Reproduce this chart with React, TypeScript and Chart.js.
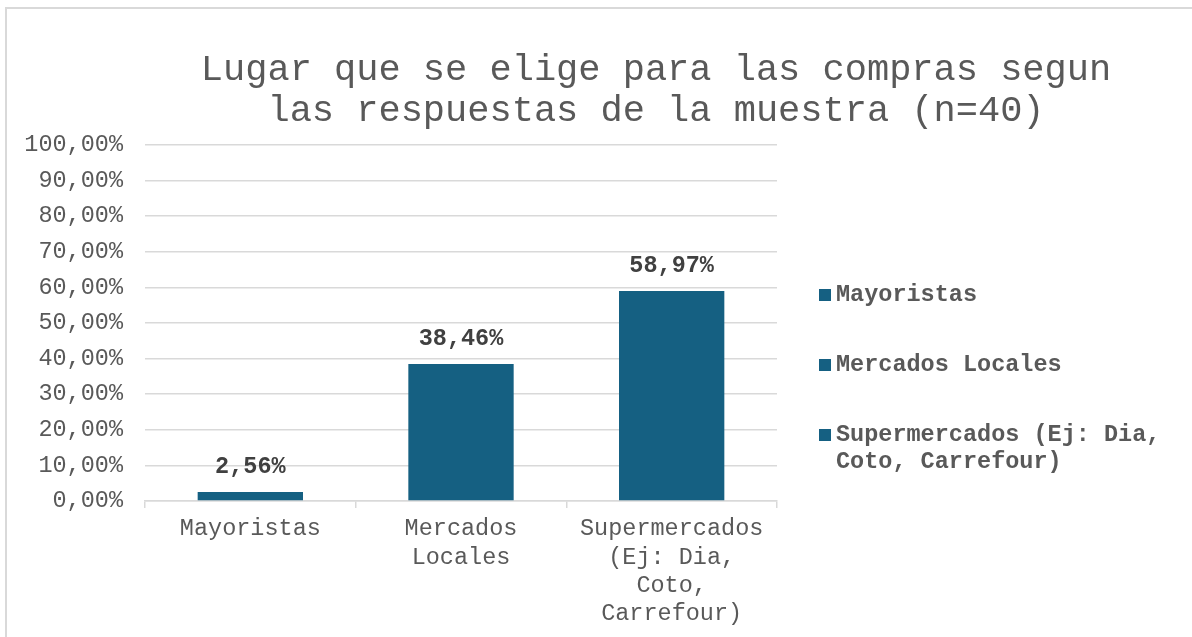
import React, { useEffect, useRef } from "react";
import { Chart, registerables } from "chart.js";

Chart.register(...registerables);

const categories: string[][] = [
  ["Mayoristas"],
  ["Mercados", "Locales"],
  ["Supermercados", "(Ej: Dia,", "Coto,", "Carrefour)"],
];
const values: number[] = [2.56, 38.46, 58.97];
const legendLabels: string[][] = [
  ["Mayoristas"],
  ["Mercados Locales"],
  ["Supermercados (Ej: Dia,", "Coto, Carrefour)"],
];
const titleLines: string[] = [
  "Lugar que se elige para las compras segun",
  "las respuestas de la muestra (n=40)",
];
const yMin = 0;
const yMax = 100;
const yStep = 10;

const FONT = "'Liberation Mono', 'Courier New', monospace";
const BAR = "#156082";
const GRID = "#d9d9d9";
const TEXT = "#595959";

const fmt = (v: number) => v.toFixed(2).replace(".", ",") + "%";

export default function App() {
  const ref = useRef<HTMLCanvasElement | null>(null);

  useEffect(() => {
    if (!ref.current) return;

    const framePlugin = {
      id: "frame",
      beforeDraw(chart: any) {
        const ctx = chart.ctx;
        ctx.save();
        ctx.fillStyle = "#ffffff";
        ctx.fillRect(0, 0, chart.width, chart.height);
        ctx.strokeStyle = GRID;
        ctx.lineWidth = 2;
        ctx.beginPath();
        ctx.moveTo(6, chart.height + 5);
        ctx.lineTo(6, 8);
        ctx.lineTo(chart.width + 5, 8);
        ctx.stroke();
        ctx.restore();
      },
    };

    const titlePlugin = {
      id: "customTitle",
      afterDraw(chart: any) {
        const ctx = chart.ctx;
        ctx.save();
        ctx.font = `37px ${FONT}`;
        ctx.fillStyle = TEXT;
        ctx.textAlign = "center";
        ctx.textBaseline = "alphabetic";
        titleLines.forEach((line, i) => {
          ctx.fillText(line, 656, 80 + i * 41);
        });
        ctx.restore();
      },
    };

    const labelPlugin = {
      id: "dataLabels",
      afterDatasetsDraw(chart: any) {
        const ctx = chart.ctx;
        const meta = chart.getDatasetMeta(0);
        ctx.save();
        ctx.font = `bold 23.5px ${FONT}`;
        ctx.fillStyle = "#404040";
        ctx.textAlign = "center";
        ctx.textBaseline = "middle";
        meta.data.forEach((bar: any, i: number) => {
          ctx.fillText(fmt(values[i]), bar.x, bar.y - 25);
        });
        ctx.restore();
      },
    };

    const legendPlugin = {
      id: "customLegend",
      afterDraw(chart: any) {
        const ctx = chart.ctx;
        ctx.save();
        ctx.font = `bold 23.5px ${FONT}`;
        ctx.textAlign = "left";
        ctx.textBaseline = "middle";
        let y = 295;
        legendLabels.forEach((lines) => {
          ctx.fillStyle = BAR;
          ctx.fillRect(819, y - 6, 12, 12);
          ctx.fillStyle = TEXT;
          lines.forEach((line, j) => {
            ctx.fillText(line, 836, y + j * 27);
          });
          y += 70;
        });
        ctx.restore();
      },
    };

    const chart = new Chart(ref.current, {
      type: "bar",
      data: {
        labels: categories,
        datasets: [
          {
            data: values,
            backgroundColor: BAR,
            borderWidth: 0,
            barPercentage: 0.5,
            categoryPercentage: 1,
          },
        ],
      },
      options: {
        animation: false,
        responsive: false,
        maintainAspectRatio: false,
        layout: { padding: { left: 0, top: 145, right: 415, bottom: 0 } },
        plugins: {
          legend: { display: false },
          title: { display: false },
          tooltip: { enabled: false },
        },
        scales: {
          x: {
            afterFit: (s: any) => {
              s.height = 136;
            },
            grid: {
              display: true,
              drawOnChartArea: false,
              drawTicks: true,
              tickLength: 7,
              color: GRID,
              lineWidth: 1.5,
              offset: true,
            },
            border: { display: true, color: GRID, width: 1.5 },
            ticks: {
              color: TEXT,
              font: { family: FONT, size: 23.5, lineHeight: 1.2 },
              padding: 7,
              maxRotation: 0,
              autoSkip: false,
            },
          },
          y: {
            min: yMin,
            max: yMax,
            afterFit: (s: any) => {
              s.width = 145;
            },
            grid: { color: GRID, lineWidth: 1.5, drawTicks: false },
            border: { display: false },
            ticks: {
              stepSize: yStep,
              color: TEXT,
              font: { family: FONT, size: 23.5 },
              padding: 22,
              callback: (v: any) => fmt(Number(v)),
            },
          },
        },
      },
      plugins: [framePlugin, labelPlugin, titlePlugin, legendPlugin],
    });

    return () => chart.destroy();
  }, []);

  return (
    <div
      style={{
        position: "fixed",
        left: 0,
        top: 0,
        width: 1192,
        height: 637,
        background: "#fff",
        overflow: "hidden",
      }}
    >
      <canvas ref={ref} width={1192} height={637} style={{ width: 1192, height: 637, display: "block" }} />
    </div>
  );
}
